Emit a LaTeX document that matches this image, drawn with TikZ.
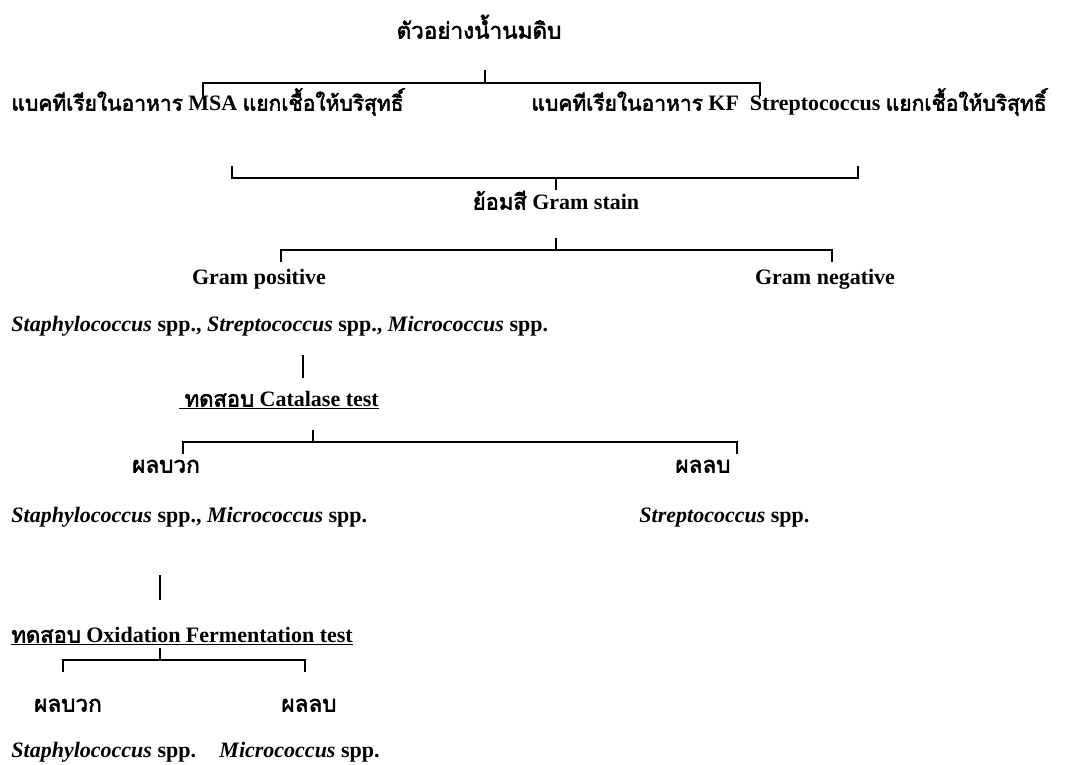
\documentclass[tikz,border=0pt]{standalone}
\usepackage{fontspec}
\setmainfont{Liberation Serif}
\newfontfamily\thai[Script=Thai,AutoFakeBold=2.5]{Loma}
\tikzset{
	lbl/.style={inner sep=0.75pt, text height=15pt, text depth=4pt,
		font=\fontsize{22}{26}\selectfont\bfseries},
	lft/.style={lbl, anchor=west},
	th/.style={font=\fontsize{22.5}{26}\selectfont\bfseries\thai},
}
\newcommand{\thr}[1]{{\fontsize{21}{26}\selectfont\thai #1}}
\begin{document}
\begin{tikzpicture}[x=1pt,y=-1pt,line width=1.4pt]
	\useasboundingbox (0,0) rectangle (1075,764);
	% texts
	\node[lbl,th] (milk) at (479,33) {ตัวอย่างน้ำนมดิบ};
	\node[lft] (msa) at (10,105) {\thr{แบคทีเรียในอาหาร} MSA \thr{แยกเชื้อให้บริสุทธิ์}};
	\node[lft] (kf) at (530,105) {\thr{แบคทีเรียในอาหาร} KF\ \ Streptococcus \thr{แยกเชื้อให้บริสุทธิ์}};
	\node[lbl] (stain) at (556,204) {{\thai ย้อมสี} Gram stain};
	\node[lbl] (gpos) at (259,279) {Gram positive};
	\node[lbl] (gneg) at (825,279) {Gram negative};
	\node[lft] (gposlist) at (10,326) {\textit{Staphylococcus} spp., \textit{Streptococcus} spp., \textit{Micrococcus} spp.};
	\node[lbl] (cat) at (279,401) {\underline{\ {\thai ทดสอบ} Catalase test}};
	\node[lbl,th] (catpos) at (166,467) {ผลบวก};
	\node[lbl,th] (catneg) at (703,467) {ผลลบ};
	\node[lft] (catposlist) at (10,517) {\textit{Staphylococcus} spp., \textit{Micrococcus} spp.};
	\node[lft] (catneglist) at (638,517) {\textit{Streptococcus} spp.};
	\node[lft] (of) at (10,637) {\underline{{\thai ทดสอบ} Oxidation Fermentation test}};
	\node[lbl,th] (ofpos) at (68,706) {ผลบวก};
	\node[lbl,th] (ofneg) at (309,706) {ผลลบ};
	\node[lft] (ofposlist) at (10,752) {\textit{Staphylococcus} spp.};
	\node[lft] (ofneglist) at (218,752) {\textit{Micrococcus} spp.};
	% brackets
	\coordinate (a0) at (485,70);
	\coordinate (ah) at (485,83);
	\coordinate (a1) at (203,96);
	\coordinate (a2) at (760,96);
	\draw (a0) -- (ah) -| (a1);
	\draw (ah) -| (a2);
	\coordinate (b0) at (556,190);
	\coordinate (bh) at (556,178);
	\coordinate (b1) at (232,166);
	\coordinate (b2) at (858,166);
	\draw (b0) -- (bh) -| (b1);
	\draw (bh) -| (b2);
	\coordinate (c0) at (556,238);
	\coordinate (ch) at (556,250);
	\coordinate (c1) at (281,262);
	\coordinate (c2) at (832,262);
	\draw (c0) -- (ch) -| (c1);
	\draw (ch) -| (c2);
	\coordinate (d0) at (303,355);
	\coordinate (d1) at (303,378);
	\draw (d0) -- (d1);
	\coordinate (e0) at (313,430);
	\coordinate (eh) at (313,442);
	\coordinate (e1) at (183,454);
	\coordinate (e2) at (737,454);
	\draw (e0) -- (eh) -| (e1);
	\draw (eh) -| (e2);
	\coordinate (f0) at (160,575);
	\coordinate (f1) at (160,600);
	\draw (f0) -- (f1);
	\coordinate (g0) at (160,648);
	\coordinate (gh) at (160,660);
	\coordinate (g1) at (63,672);
	\coordinate (g2) at (305,672);
	\draw (g0) -- (gh) -| (g1);
	\draw (gh) -| (g2);
\end{tikzpicture}
\end{document}
